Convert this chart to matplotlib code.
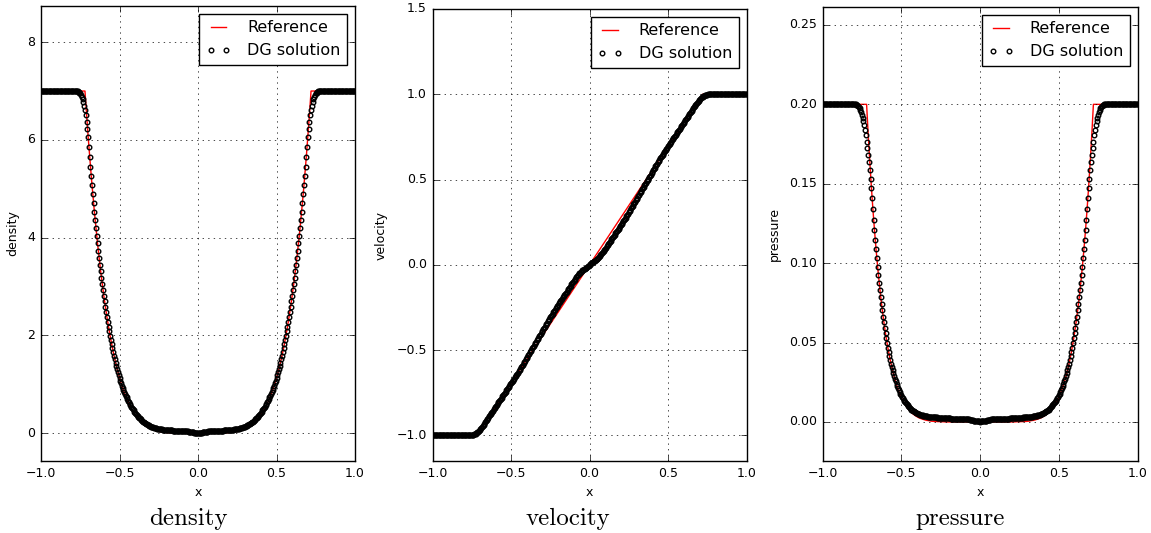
import numpy as np
import matplotlib.pyplot as plt

# ---- reference (exact) solution, read on a 0.01 grid ----
x_ref = np.linspace(-1.0, 1.0, 201)
rho_ref = ([7.0] * 28 +
           [7.000, 6.527, 6.080, 5.658, 5.260, 4.884, 4.531, 4.198, 3.885, 3.590,
            3.314, 3.055, 2.813, 2.586, 2.375, 2.177, 1.993, 1.821, 1.661, 1.513,
            1.375, 1.248, 1.131, 1.022, 0.922, 0.830, 0.745, 0.668, 0.597, 0.532,
            0.473, 0.419, 0.370, 0.326, 0.287, 0.251, 0.219, 0.190, 0.164, 0.142,
            0.121, 0.104, 0.088, 0.074, 0.062, 0.052, 0.043, 0.035, 0.029, 0.023,
            0.019, 0.015, 0.012, 0.009, 0.007, 0.005, 0.004, 0.003, 0.002, 0.001,
            0.001] +
           [0.0] * 23 +
           [0.001, 0.001, 0.002, 0.003, 0.004, 0.005, 0.007, 0.009, 0.012, 0.015,
            0.019, 0.023, 0.029, 0.035, 0.043, 0.052, 0.062, 0.074, 0.088, 0.104,
            0.121, 0.142, 0.164, 0.190, 0.219, 0.251, 0.287, 0.326, 0.370, 0.419,
            0.473, 0.532, 0.597, 0.668, 0.745, 0.830, 0.922, 1.022, 1.131, 1.248,
            1.375, 1.513, 1.661, 1.821, 1.993, 2.177, 2.375, 2.586, 2.813, 3.055,
            3.314, 3.590, 3.885, 4.198, 4.531, 4.884, 5.260, 5.658, 6.080, 6.527,
            7.000] +
           [7.0] * 28)
p_ref = ([0.2] * 28 +
         [0.2000, 0.1813, 0.1642, 0.1485, 0.1340, 0.1209, 0.1088, 0.0978, 0.0877, 0.0785,
          0.0702, 0.0627, 0.0558, 0.0496, 0.0440, 0.0390, 0.0344, 0.0304, 0.0267, 0.0234,
          0.0205, 0.0179, 0.0156, 0.0135, 0.0117, 0.0101, 0.0087, 0.0075, 0.0064, 0.0054,
          0.0046, 0.0039, 0.0033, 0.0027, 0.0023, 0.0019, 0.0016, 0.0013, 0.0010, 0.0009,
          0.0007, 0.0005, 0.0004, 0.0003, 0.0003, 0.0002, 0.0002, 0.0001, 0.0001, 0.0001] +
         [0.0] * 45 +
         [0.0001, 0.0001, 0.0001, 0.0002, 0.0002, 0.0003, 0.0003, 0.0004, 0.0005, 0.0007,
          0.0009, 0.0010, 0.0013, 0.0016, 0.0019, 0.0023, 0.0027, 0.0033, 0.0039, 0.0046,
          0.0054, 0.0064, 0.0075, 0.0087, 0.0101, 0.0117, 0.0135, 0.0156, 0.0179, 0.0205,
          0.0234, 0.0267, 0.0304, 0.0344, 0.0390, 0.0440, 0.0496, 0.0558, 0.0627, 0.0702,
          0.0785, 0.0877, 0.0978, 0.1088, 0.1209, 0.1340, 0.1485, 0.1642, 0.1813, 0.2000] +
         [0.2] * 28)
x_uref = [-1.0, -0.72, 0.72, 1.0]
u_ref = [-1.0, -1.0, 1.0, 1.0]

# ---- DG solution, read on a 0.005 grid ----
x_dg = np.linspace(-1.0, 1.0, 401)
rho_dg = ([7.0] * 40 +
          [7.0, 7.0, 7.0, 7.0, 7.0, 7.0,
           6.998, 6.993, 6.985, 6.97, 6.95, 6.92, 6.88, 6.83, 6.77, 6.70, 6.61, 6.50, 6.37, 6.22, 6.05,
           5.86, 5.66, 5.455, 5.260, 5.069, 4.884, 4.704, 4.531, 4.361, 4.198,
           4.038, 3.885, 3.735, 3.590, 3.449, 3.314, 3.182, 3.055, 2.932, 2.813,
           2.697, 2.586, 2.478, 2.375, 2.274, 2.177, 2.083, 1.993, 1.905, 1.821,
           1.739, 1.661, 1.585, 1.513, 1.442, 1.375, 1.310, 1.248, 1.188, 1.131,
           1.075, 1.022, 0.971, 0.922, 0.878, 0.838, 0.800, 0.765, 0.730, 0.695,
           0.660, 0.630, 0.600, 0.570, 0.540, 0.515, 0.490, 0.465, 0.440, 0.420,
           0.395, 0.375, 0.355, 0.335, 0.315, 0.300, 0.280, 0.265, 0.250, 0.235,
           0.222, 0.210, 0.198, 0.187, 0.177, 0.167, 0.158, 0.150, 0.142, 0.135,
           0.128, 0.122, 0.116, 0.111, 0.106, 0.101, 0.097, 0.093, 0.089, 0.086,
           0.083, 0.080, 0.077, 0.075, 0.073, 0.071, 0.069, 0.067, 0.065, 0.063,
           0.062, 0.060, 0.059, 0.058, 0.057, 0.056, 0.055, 0.054, 0.053, 0.052,
           0.051, 0.050, 0.049, 0.048, 0.047, 0.046, 0.045, 0.044, 0.043, 0.042,
           0.041, 0.040, 0.039, 0.038, 0.037, 0.036, 0.034, 0.032, 0.030, 0.027,
           0.024, 0.021, 0.018, 0.015, 0.012, 0.009, 0.007, 0.005, 0.004, 0.003] +
          [0.004, 0.005, 0.007, 0.009, 0.012, 0.015, 0.018, 0.021, 0.024, 0.027,
           0.030, 0.032, 0.034, 0.036, 0.037, 0.038, 0.039, 0.040, 0.041, 0.042,
           0.043, 0.044, 0.045, 0.046, 0.047, 0.048, 0.049, 0.050, 0.051, 0.052,
           0.053, 0.054, 0.055, 0.056, 0.057, 0.058, 0.059, 0.060, 0.062, 0.063,
           0.065, 0.067, 0.069, 0.071, 0.073, 0.075, 0.077, 0.080, 0.083, 0.086,
           0.089, 0.093, 0.097, 0.101, 0.106, 0.111, 0.116, 0.122, 0.128, 0.135,
           0.142, 0.150, 0.158, 0.167, 0.177, 0.187, 0.198, 0.210, 0.222, 0.235,
           0.250, 0.265, 0.280, 0.300, 0.315, 0.335, 0.355, 0.375, 0.395, 0.420,
           0.440, 0.465, 0.490, 0.515, 0.540, 0.570, 0.600, 0.630, 0.660, 0.695,
           0.730, 0.765, 0.800, 0.838, 0.878, 0.922, 0.971, 1.022, 1.075, 1.131,
           1.188, 1.248, 1.310, 1.375, 1.442, 1.513, 1.585, 1.661, 1.739, 1.821,
           1.905, 1.993, 2.083, 2.177, 2.274, 2.375, 2.478, 2.586, 2.697, 2.813,
           2.932, 3.055, 3.182, 3.314, 3.449, 3.590, 3.735, 3.885, 4.038, 4.198,
           4.361, 4.531, 4.704, 4.884, 5.069, 5.260, 5.455, 5.66, 5.86, 6.05,
           6.22, 6.37, 6.50, 6.61, 6.70, 6.77, 6.83, 6.88, 6.92, 6.95,
           6.97, 6.985, 6.993, 6.998, 7.0, 7.0, 7.0, 7.0, 7.0, 7.0] +
          [7.0] * 40)
u_dg = ([-1.0] * 40 +
        [-1.0, -1.0, -1.0, -1.0, -1.0, -1.0, -1.0, -0.9998, -0.9995, -0.9989, -0.9981,
         -0.9970, -0.9955, -0.9937, -0.9915, -0.9890, -0.9860, -0.9825, -0.9785, -0.9740, -0.9690,
         -0.9635, -0.9575, -0.9510, -0.9444, -0.9375, -0.9306, -0.9236, -0.9167, -0.9097, -0.9028,
         -0.8958, -0.8889, -0.8819, -0.8750, -0.8681, -0.8611, -0.8542, -0.8472, -0.8403, -0.8333,
         -0.8264, -0.8194, -0.8125, -0.8056, -0.7986, -0.7917, -0.7847, -0.7778, -0.7708, -0.7639,
         -0.7569, -0.7500, -0.7431, -0.7361, -0.7292, -0.7222, -0.7153, -0.7083, -0.7014, -0.6944,
         -0.6875, -0.6806, -0.6736, -0.6667, -0.6597, -0.6528, -0.6458, -0.6389, -0.6319, -0.6250,
         -0.6171, -0.6091, -0.6012, -0.5932, -0.5853, -0.5773, -0.5694, -0.5614, -0.5535, -0.5456,
         -0.5376, -0.5297, -0.5217, -0.5138, -0.5058, -0.4979, -0.4899, -0.4820, -0.4741, -0.4661,
         -0.4582, -0.4502, -0.4423, -0.4343, -0.4264, -0.4184, -0.4105, -0.4026, -0.3946, -0.3867,
         -0.3787, -0.3708, -0.3628, -0.3549, -0.3469, -0.3390, -0.3311, -0.3231, -0.3152, -0.3072,
         -0.3003, -0.2923, -0.2854, -0.2774, -0.2705, -0.2626, -0.2556, -0.2477, -0.2407, -0.2338,
         -0.2258, -0.2189, -0.2119, -0.2050, -0.1981, -0.1911, -0.1842, -0.1772, -0.1703, -0.1633,
         -0.1564, -0.1494, -0.1425, -0.1356, -0.1286, -0.1217, -0.1147, -0.1078, -0.1008, -0.0939,
         -0.0869, -0.0810, -0.0741, -0.0681, -0.0622, -0.0562, -0.0503, -0.0453, -0.0404, -0.0354,
         -0.0315, -0.0276, -0.0246, -0.0217, -0.0187, -0.0158, -0.0128, -0.0089, -0.0049, 0.0] +
        [0.0049, 0.0089, 0.0128, 0.0158, 0.0187, 0.0217, 0.0246, 0.0276, 0.0315, 0.0354,
         0.0404, 0.0453, 0.0503, 0.0562, 0.0622, 0.0681, 0.0741, 0.0810, 0.0869, 0.0939,
         0.1008, 0.1078, 0.1147, 0.1217, 0.1286, 0.1356, 0.1425, 0.1494, 0.1564, 0.1633,
         0.1703, 0.1772, 0.1842, 0.1911, 0.1981, 0.2050, 0.2119, 0.2189, 0.2258, 0.2338,
         0.2407, 0.2477, 0.2556, 0.2626, 0.2705, 0.2774, 0.2854, 0.2923, 0.3003, 0.3072,
         0.3152, 0.3231, 0.3311, 0.3390, 0.3469, 0.3549, 0.3628, 0.3708, 0.3787, 0.3867,
         0.3946, 0.4026, 0.4105, 0.4184, 0.4264, 0.4343, 0.4423, 0.4502, 0.4582, 0.4661,
         0.4741, 0.4820, 0.4899, 0.4979, 0.5058, 0.5138, 0.5217, 0.5297, 0.5376, 0.5456,
         0.5535, 0.5614, 0.5694, 0.5773, 0.5853, 0.5932, 0.6012, 0.6091, 0.6171, 0.6250,
         0.6319, 0.6389, 0.6458, 0.6528, 0.6597, 0.6667, 0.6736, 0.6806, 0.6875, 0.6944,
         0.7014, 0.7083, 0.7153, 0.7222, 0.7292, 0.7361, 0.7431, 0.7500, 0.7569, 0.7639,
         0.7708, 0.7778, 0.7847, 0.7917, 0.7986, 0.8056, 0.8125, 0.8194, 0.8264, 0.8333,
         0.8403, 0.8472, 0.8542, 0.8611, 0.8681, 0.8750, 0.8819, 0.8889, 0.8958, 0.9028,
         0.9097, 0.9167, 0.9236, 0.9306, 0.9375, 0.9444, 0.9510, 0.9575, 0.9635, 0.9690,
         0.9740, 0.9785, 0.9825, 0.9860, 0.9890, 0.9915, 0.9937, 0.9955, 0.9970, 0.9981,
         0.9989, 0.9995, 0.9998, 1.0, 1.0, 1.0, 1.0, 1.0, 1.0, 1.0] +
        [1.0] * 40)
p_dg = ([0.2] * 40 +
        [0.2000, 0.2000, 0.2000, 0.1999, 0.1996, 0.1991, 0.1984, 0.1975, 0.1964, 0.1951, 0.1935,
         0.1916, 0.1894, 0.1868, 0.1838, 0.1804, 0.1766, 0.1725, 0.1680, 0.1635, 0.1585,
         0.1530, 0.1475, 0.1411, 0.1340, 0.1273, 0.1209, 0.1147, 0.1088, 0.1032, 0.0978,
         0.0926, 0.0877, 0.0830, 0.0785, 0.0742, 0.0702, 0.0663, 0.0627, 0.0591, 0.0558,
         0.0526, 0.0496, 0.0467, 0.0440, 0.0414, 0.0390, 0.0366, 0.0345, 0.0326, 0.0308,
         0.0290, 0.0273, 0.0257, 0.0242, 0.0228, 0.0215, 0.0202, 0.0190, 0.0179, 0.0169,
         0.0159, 0.0150, 0.0141, 0.0133, 0.0125, 0.0118, 0.0111, 0.0105, 0.0099, 0.0093,
         0.0088, 0.0083, 0.0078, 0.0074, 0.0070, 0.0066, 0.0063, 0.0060, 0.0057, 0.0054,
         0.0052, 0.0050, 0.0048, 0.0046, 0.0044, 0.0043, 0.0042, 0.0040, 0.0039, 0.0038,
         0.0037, 0.0036, 0.0035, 0.0034, 0.0033, 0.0033, 0.0032, 0.0031, 0.0031, 0.0030,
         0.0030, 0.0029, 0.0029, 0.0028, 0.0028, 0.0027, 0.0027, 0.0026, 0.0026, 0.0025,
         0.0025, 0.0025, 0.0024, 0.0024, 0.0024, 0.0023, 0.0023, 0.0023, 0.0022, 0.0022,
         0.0022, 0.0022, 0.0021, 0.0021, 0.0021, 0.0021, 0.0020, 0.0020, 0.0020, 0.0020,
         0.0020, 0.0019, 0.0019, 0.0019, 0.0019, 0.0019, 0.0018, 0.0018, 0.0018, 0.0018,
         0.0018, 0.0017, 0.0017, 0.0017, 0.0016, 0.0016, 0.0015, 0.0014, 0.0013, 0.0012,
         0.0011, 0.0009, 0.0008, 0.0007, 0.0006, 0.0005, 0.0004, 0.0003, 0.0003, 0.0002] +
        [0.0003, 0.0003, 0.0004, 0.0005, 0.0006, 0.0007, 0.0008, 0.0009, 0.0011, 0.0012,
         0.0013, 0.0014, 0.0015, 0.0016, 0.0016, 0.0017, 0.0017, 0.0017, 0.0018, 0.0018,
         0.0018, 0.0018, 0.0018, 0.0019, 0.0019, 0.0019, 0.0019, 0.0019, 0.0020, 0.0020,
         0.0020, 0.0020, 0.0020, 0.0021, 0.0021, 0.0021, 0.0021, 0.0022, 0.0022, 0.0022,
         0.0022, 0.0023, 0.0023, 0.0023, 0.0024, 0.0024, 0.0024, 0.0025, 0.0025, 0.0025,
         0.0026, 0.0026, 0.0027, 0.0027, 0.0028, 0.0028, 0.0029, 0.0029, 0.0030, 0.0030,
         0.0031, 0.0031, 0.0032, 0.0033, 0.0033, 0.0034, 0.0035, 0.0036, 0.0037, 0.0038,
         0.0039, 0.0040, 0.0042, 0.0043, 0.0044, 0.0046, 0.0048, 0.0050, 0.0052, 0.0054,
         0.0057, 0.0060, 0.0063, 0.0066, 0.0070, 0.0074, 0.0078, 0.0083, 0.0088, 0.0093,
         0.0099, 0.0105, 0.0111, 0.0118, 0.0125, 0.0133, 0.0141, 0.0150, 0.0159, 0.0169,
         0.0179, 0.0190, 0.0202, 0.0215, 0.0228, 0.0242, 0.0257, 0.0273, 0.0290, 0.0308,
         0.0326, 0.0345, 0.0366, 0.0390, 0.0414, 0.0440, 0.0467, 0.0496, 0.0526, 0.0558,
         0.0591, 0.0627, 0.0663, 0.0702, 0.0742, 0.0785, 0.0830, 0.0877, 0.0926, 0.0978,
         0.1032, 0.1088, 0.1147, 0.1209, 0.1273, 0.1340, 0.1411, 0.1475, 0.1530, 0.1585,
         0.1635, 0.1680, 0.1725, 0.1766, 0.1804, 0.1838, 0.1868, 0.1894, 0.1916, 0.1935,
         0.1951, 0.1964, 0.1975, 0.1984, 0.1991, 0.1996, 0.1999, 0.2000, 0.2000, 0.2000] +
        [0.2] * 40)

names = ['density', 'velocity', 'pressure']
y_limits = [(-0.57, 8.74), (-1.15, 1.5), (-0.0246, 0.2613)]
y_ticks = [[0, 2, 4, 6, 8],
           [-1.0, -0.5, 0.0, 0.5, 1.0, 1.5],
           [0.00, 0.05, 0.10, 0.15, 0.20, 0.25]]

plt.style.use('classic')
plt.rcParams['xtick.labelsize'] = 9
plt.rcParams['ytick.labelsize'] = 9

W, H = 1151, 533
fig = plt.figure(figsize=(W / 100, H / 100), dpi=100, facecolor='white')

# axes boxes in pixels: left, right, top, bottom
boxes = [(41, 355, 6, 461), (432.5, 746.5, 9, 461), (822.5, 1137.5, 7, 461)]
caption_x = [188, 568, 960]

refs = [(x_ref, rho_ref), (x_uref, u_ref), (x_ref, p_ref)]
sols = [rho_dg, u_dg, p_dg]

for i, name in enumerate(names):
    l, r, t, b = boxes[i]
    ax = fig.add_axes([l / W, (H - b) / H, (r - l) / W, (b - t) / H])
    ax.plot(refs[i][0], refs[i][1], '-', color='red', lw=1.0, label='Reference')
    ax.plot(x_dg, sols[i], 'o', mfc='none', mec='black', ms=3.3, mew=1.0,
            label='DG solution')
    ax.set_xlim(-1.0, 1.0)
    ax.set_ylim(*y_limits[i])
    ax.set_xticks([-1.0, -0.5, 0.0, 0.5, 1.0])
    ax.set_yticks(y_ticks[i])
    ax.grid(True, color='black', linestyle=':', linewidth=0.5)
    ax.set_xlabel('x', fontsize=9)
    ax.set_ylabel(name, fontsize=9, labelpad=6)
    ax.legend(loc='upper right', fontsize=11.5, numpoints=2, handlelength=1.6,
              handletextpad=1.0, borderaxespad=0.5, fancybox=False)
    fig.text(caption_x[i] / W, 8 / H, name, ha='center', va='baseline',
             fontsize=18, family='cmr10')

fig.savefig('out.png', dpi=100, facecolor='white')
